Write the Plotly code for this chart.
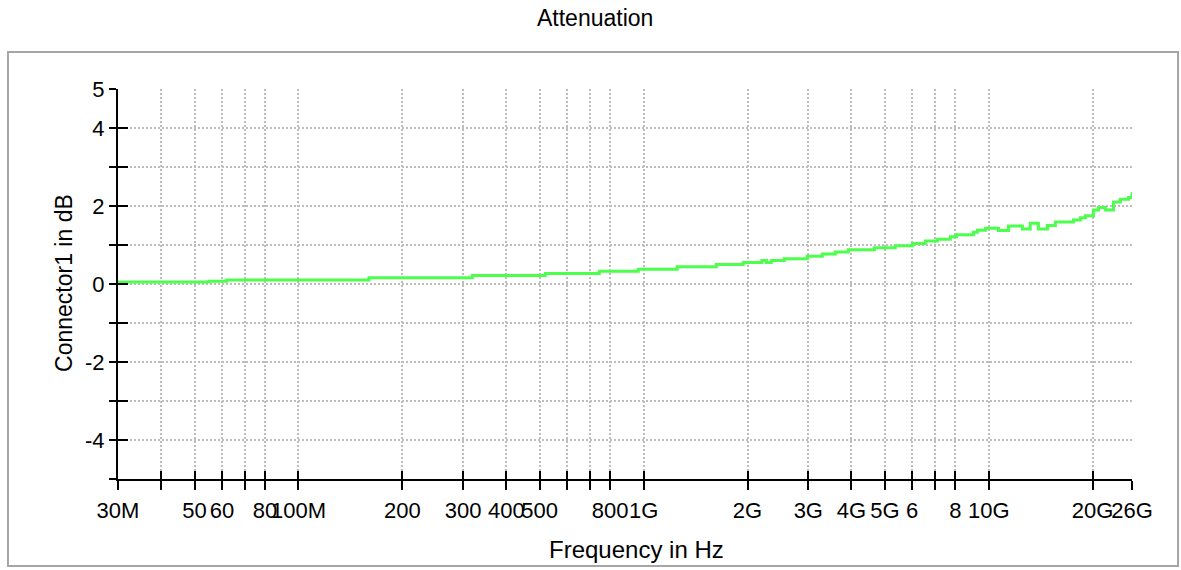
import plotly.graph_objects as go

# attenuation curve (frequency in MHz, loss in dB)
freq_mhz = [30, 55, 62, 160, 319, 519, 744, 965, 1251, 1624, 1944, 2200, 2270,
            2343, 2557, 2980, 3293, 3592, 3918, 4662, 5359, 6006, 6549, 7098,
            7741, 8061, 9028, 9271, 9780, 10666, 11403, 12510, 13191, 13925,
            14790, 15597, 17589, 18420, 19050, 20100, 20790, 21780, 22970,
            24060, 25400, 26000]
atten_db = [0.05, 0.07, 0.10, 0.16, 0.22, 0.27, 0.33, 0.38, 0.44, 0.50, 0.55,
            0.60, 0.55, 0.60, 0.65, 0.71, 0.77, 0.82, 0.88, 0.93, 0.98, 1.04,
            1.10, 1.15, 1.21, 1.26, 1.33, 1.38, 1.43, 1.37, 1.49, 1.41, 1.56,
            1.41, 1.50, 1.59, 1.64, 1.70, 1.75, 1.90, 1.96, 1.90, 2.10, 2.17,
            2.22, 2.35]

x_tickvals = [30, 40, 50, 60, 70, 80, 100, 200, 300, 400, 500, 600, 700, 800,
              1000, 2000, 3000, 4000, 5000, 6000, 7000, 8000, 10000, 20000, 26000]
x_ticktext = ["30M", "", "50", "60", "", "80", "100M", "200", "300", "400",
              "500", "", "", "800", "1G", "2G", "3G", "4G", "5G", "6", "", "8",
              "10G", "20G", "26G"]
y_tickvals = [-5, -4, -3, -2, -1, 0, 1, 2, 3, 4, 5]
y_ticktext = ["", "-4", "", "-2", "", "0", "", "2", "", "4", "5"]

freq_hz = [f * 1e6 for f in freq_mhz]
xt_hz = [v * 1e6 for v in x_tickvals]

FONT = "Liberation Sans, Arial, sans-serif"
GRID = "#bdbdbd"

fig = go.Figure()
fig.add_trace(go.Scatter(
    x=freq_hz, y=atten_db, mode="lines", line_shape="hv",
    line=dict(color="#4cff4c", width=3), hoverinfo="skip", showlegend=False,
))
# invisible copy so the overlay axes (inner half of the tick marks) get drawn
fig.add_trace(go.Scatter(
    x=freq_hz, y=atten_db, xaxis="x2", yaxis="y2", mode="lines",
    line=dict(color="rgba(0,0,0,0)", width=0), hoverinfo="skip", showlegend=False,
))

xr = [1.4771213 + 6, 4.4149733 + 6]  # log10(30e6) .. log10(26e9)

fig.update_layout(
    width=1181, height=570,
    margin=dict(l=118, r=49, t=89, b=91),
    paper_bgcolor="white", plot_bgcolor="white",
    font=dict(family=FONT, size=23, color="black"),
    hovermode=False,
    xaxis=dict(
        type="log", range=xr, tickvals=xt_hz, ticktext=x_ticktext, tickangle=0,
        tickfont=dict(size=22),
        ticks="outside", ticklen=9, tickwidth=2, tickcolor="black",
        showline=True, linecolor="black", linewidth=2,
        showgrid=True, gridcolor=GRID, gridwidth=2, griddash="2px,2px",
        zeroline=False, ticklabelstandoff=2,
    ),
    yaxis=dict(
        range=[-5, 5], tickvals=y_tickvals, ticktext=y_ticktext,
        tickfont=dict(size=22),
        ticks="outside", ticklen=7, tickwidth=2, tickcolor="black",
        showline=True, linecolor="black", linewidth=2,
        showgrid=True, gridcolor=GRID, gridwidth=2, griddash="2px,2px",
        zeroline=False,
    ),
    xaxis2=dict(
        type="log", range=xr, tickvals=xt_hz, overlaying="x", anchor="y",
        ticks="inside", ticklen=8, tickwidth=2, tickcolor="black",
        showticklabels=False, showgrid=False, showline=False, zeroline=False,
    ),
    yaxis2=dict(
        range=[-5, 5], tickvals=y_tickvals, overlaying="y", anchor="x",
        ticks="inside", ticklen=10, tickwidth=2, tickcolor="black",
        showticklabels=False, showgrid=False, showline=False, zeroline=False,
    ),
    annotations=[
        dict(text="Attenuation", xref="paper", yref="paper", x=0.4704, y=1.182,
             showarrow=False, xanchor="center", yanchor="middle"),
        dict(text="Frequency in Hz", xref="paper", yref="paper", x=0.511, y=-0.1795,
             showarrow=False, xanchor="center", yanchor="middle",
             font=dict(size=24)),
        dict(text="Connector1 in dB", xref="paper", yref="paper", x=-0.0533, y=0.5026,
             showarrow=False, xanchor="center", yanchor="middle", textangle=-90),
    ],
    shapes=[
        dict(type="rect", xref="paper", yref="paper", x0=-0.1085, x1=1.0454,
             y0=-0.2231, y1=1.0949, line=dict(color="#a6a6a6", width=2),
             layer="below"),
    ],
)

fig.write_html("out.html", config={"displayModeBar": False},
               post_script="document.body.style.margin='0';")
